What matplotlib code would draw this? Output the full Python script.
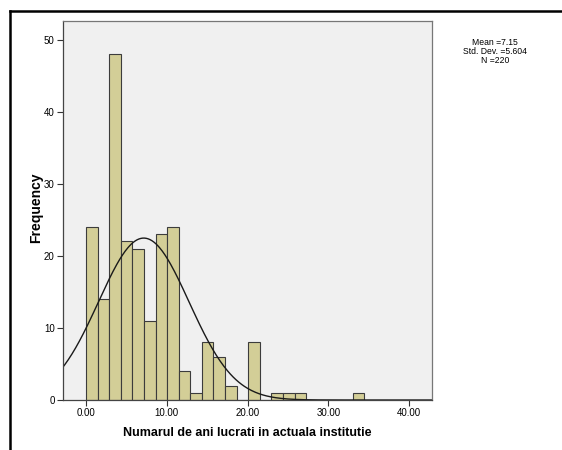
import numpy as np
import matplotlib.pyplot as plt
from matplotlib.lines import Line2D

# frecvente pe intervale (latime interval ~1.435 ani)
bin_width = 1.435
counts = [24, 14, 48, 22, 21, 11, 23, 24, 4, 1, 8, 6, 2, 0, 8, 0, 1, 1, 1, 0, 0, 0, 0, 1]
mean = 7.15
std_dev = 5.604
n = 220
x_ticks = [0, 10, 20, 30, 40]
y_ticks = [0, 10, 20, 30, 40, 50]

plt.rcParams['font.family'] = ['Liberation Sans', 'DejaVu Sans']

fig = plt.figure(figsize=(5.62, 4.5), dpi=100)
ax = fig.add_axes([0.1121, 0.1111, 0.6566, 0.8422])
ax.set_facecolor('#F0F0F0')

edges = np.arange(len(counts)) * bin_width
ax.bar(edges, counts, width=bin_width, align='edge', color='#D3CE97',
       edgecolor='#3C3C3C', linewidth=0.8)

xs = np.linspace(-3, 43, 400)
curve = n * bin_width / (std_dev * np.sqrt(2 * np.pi)) * np.exp(-0.5 * ((xs - mean) / std_dev) ** 2)
ax.plot(xs, curve, color='#1A1A1A', linewidth=1.0)

ax.set_xlim(-2.85, 42.85)
ax.set_ylim(0, 52.6)
ax.set_xticks(x_ticks)
ax.set_xticklabels(['%.2f' % v for v in x_ticks])
ax.set_yticks(y_ticks)
ax.tick_params(axis='both', labelsize=7, length=4, width=0.8, color='#333333', pad=2)
for s in ax.spines.values():
    s.set_color('#777777')
    s.set_linewidth(0.9)
ax.spines['left'].set_color('#444444')
ax.spines['bottom'].set_color('#444444')

ax.set_xlabel('Numarul de ani lucrati in actuala institutie', fontsize=9, fontweight='bold', labelpad=6.5)
ax.set_ylabel('Frequency', fontsize=10, fontweight='bold')
ax.yaxis.set_label_coords(-0.053, 0.507)

fig.text(0.881, 0.915, 'Mean =7.15\nStd. Dev. =5.604\nN =220', ha='center', va='top',
         fontsize=6.2, linespacing=1.0)

# chenar negru (doar sus si stanga)
fig.add_artist(Line2D([0.018, 1.0], [0.976, 0.976], color='black', linewidth=1.8, transform=fig.transFigure))
fig.add_artist(Line2D([0.018, 0.018], [0.0, 0.976], color='black', linewidth=1.8, transform=fig.transFigure))

fig.savefig('out.png', dpi=100)
